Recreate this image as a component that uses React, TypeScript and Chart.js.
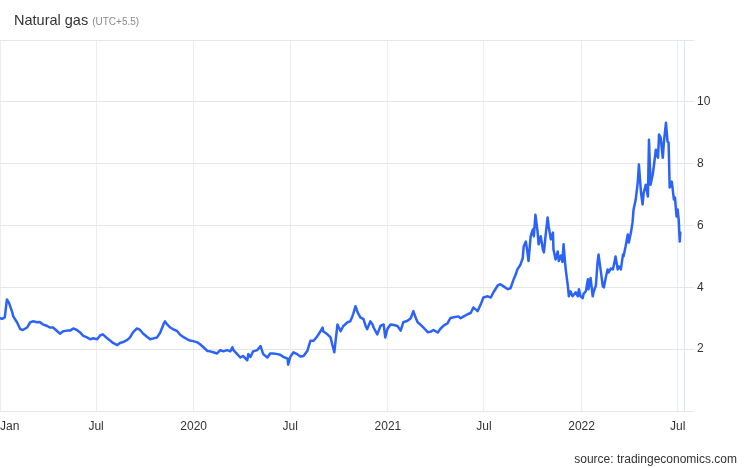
import React, { useEffect, useRef } from "react";
import { Chart, registerables } from "chart.js";

Chart.register(...registerables);

// days since 2019-01-01
const days = [
  0, 4, 9, 13, 17, 23, 25, 32, 38, 43, 51, 57, 62, 70, 75, 81, 89, 94, 100, 108,
  113, 119, 126, 132, 138, 145, 151, 157, 164, 170, 175, 183, 189, 194, 202, 208, 213, 221, 226, 232,
  240, 245, 251, 258, 264, 270, 277, 283, 289, 296, 302, 308, 311, 315, 321, 326, 334, 340, 345, 353,
  358, 364, 372, 377, 383, 391, 396, 402, 409, 415, 421, 428, 434, 438, 440, 447, 453, 458, 466, 468,
  472, 477, 485, 491, 496, 504, 509, 515, 523, 528, 534, 542, 543, 547, 553, 560, 566, 572, 579, 585,
  591, 598, 604, 608, 609, 617, 623, 626, 630, 636, 642, 647, 655, 660, 664, 666, 670, 674, 679, 685,
  689, 692, 698, 702, 704, 711, 717, 723, 726, 730, 736, 742, 749, 755, 760, 768, 774, 779, 783, 787,
  792, 798, 806, 811, 817, 825, 830, 836, 843, 849, 855, 864, 868, 874, 881, 887, 892, 900, 906, 911,
  919, 925, 930, 938, 943, 949, 957, 962, 968, 972, 975, 981, 985, 987, 991, 994, 996, 1000, 1004, 1006,
  1009, 1013, 1015, 1019, 1023, 1025, 1028, 1032, 1034, 1038, 1042, 1043, 1047, 1051, 1053, 1057, 1060, 1062, 1066, 1070,
  1072, 1075, 1079, 1085, 1089, 1091, 1094, 1098, 1100, 1104, 1108, 1109, 1113, 1117, 1119, 1123, 1126, 1128, 1132, 1136,
  1138, 1142, 1145, 1147, 1151, 1155, 1157, 1160, 1164, 1166, 1170, 1174, 1175, 1179, 1183, 1185, 1189, 1192, 1194, 1198,
  1202, 1204, 1208, 1211, 1213, 1217, 1221, 1223, 1226, 1230, 1232, 1236, 1240, 1242, 1245, 1249, 1251, 1255, 1258, 1260,
  1262, 1266, 1270, 1272, 1275, 1277, 1279, 1281, 1282,
];

const prices = [
  3.0, 2.98, 3.03, 3.61, 3.5, 3.2, 3.06, 2.87, 2.65, 2.62, 2.7, 2.87, 2.9, 2.87, 2.88, 2.8, 2.75, 2.7, 2.7, 2.58,
  2.5, 2.58, 2.6, 2.6, 2.67, 2.62, 2.54, 2.43, 2.38, 2.32, 2.35, 2.32, 2.45, 2.48, 2.35, 2.27, 2.2, 2.13, 2.2, 2.23,
  2.3, 2.38, 2.55, 2.67, 2.62, 2.5, 2.4, 2.32, 2.35, 2.38, 2.54, 2.8, 2.9, 2.8, 2.7, 2.65, 2.58, 2.46, 2.4, 2.32,
  2.28, 2.26, 2.22, 2.16, 2.07, 1.94, 1.93, 1.9, 1.86, 1.97, 1.93, 1.97, 1.93, 2.06, 1.97, 1.84, 1.73, 1.78, 1.64, 1.84,
  1.75, 1.93, 1.97, 2.1, 1.84, 1.73, 1.86, 1.86, 1.84, 1.82, 1.75, 1.69, 1.5, 1.75, 1.9, 1.84, 1.76, 1.78, 1.94, 2.27,
  2.27, 2.42, 2.58, 2.7, 2.58, 2.48, 2.38, 2.16, 1.9, 2.8, 2.58, 2.75, 2.87, 2.9, 3.06, 3.16, 3.39, 3.19, 3.03, 2.97,
  2.75, 2.65, 2.9, 2.8, 2.7, 2.48, 2.75, 2.8, 2.38, 2.65, 2.8, 2.78, 2.75, 2.6, 2.87, 2.92, 3.0, 3.23, 3.03, 2.87,
  2.8, 2.7, 2.55, 2.56, 2.62, 2.54, 2.66, 2.76, 2.83, 3.01, 3.03, 3.06, 3.0, 3.06, 3.13, 3.17, 3.35, 3.23, 3.45, 3.67,
  3.71, 3.67, 3.84, 4.06, 4.1, 4.03, 3.94, 3.97, 4.26, 4.42, 4.58, 4.74, 4.94, 5.33, 5.48, 5.13, 4.85, 5.65, 5.87, 5.65,
  6.35, 5.81, 5.39, 5.65, 5.23, 5.13, 5.65, 6.26, 5.97, 5.55, 5.77, 5.23, 4.9, 5.16, 4.85, 5.03, 4.82, 5.39, 4.6, 4.06,
  3.71, 3.87, 3.71, 3.84, 3.71, 3.94, 3.71, 3.65, 3.8, 3.87, 4.26, 3.94, 4.3, 3.71, 3.87, 4.06, 4.8, 5.06, 4.55, 4.03,
  4.0, 4.35, 4.58, 4.48, 4.61, 4.58, 4.74, 5.0, 4.58, 4.68, 4.58, 5.06, 5.0, 5.33, 5.71, 5.45, 5.77, 6.1, 6.52, 6.84,
  7.42, 7.97, 7.06, 6.68, 7.06, 7.32, 6.94, 8.77, 7.32, 7.65, 7.9, 8.45, 8.19, 8.94, 8.84, 8.19, 8.68, 9.32, 8.71, 8.68,
  7.23, 7.42, 6.84, 6.9, 6.29, 6.52, 6.19, 5.48, 5.77,
];

const tickDays = [0, 181, 365, 547, 731, 912, 1096, 1277, 1289];
const tickLabels = ["Jan", "Jul", "2020", "Jul", "2021", "Jul", "2022", "Jul", ""];
const yTickValues = [0, 2, 4, 6, 8, 10, 12];

const FONT = "'Liberation Sans', Arial, Helvetica, sans-serif";

export default function App() {
  const ref = useRef<HTMLCanvasElement>(null);

  useEffect(() => {
    document.body.style.margin = "0";
    const canvas = ref.current;
    if (!canvas) return;
    const chart = new Chart(canvas, {
      type: "line",
      data: {
        datasets: [
          {
            data: days.map((d, i) => ({ x: d, y: prices[i] })),
            borderColor: "#2b63f6",
            borderWidth: 2.5,
            borderJoinStyle: "round",
            borderCapStyle: "round",
            pointRadius: 0,
            tension: 0,
            fill: false,
          },
        ],
      },
      options: {
        responsive: false,
        animation: false,
        layout: { padding: { top: 40, left: 0, right: 0, bottom: 0 } },
        plugins: { legend: { display: false }, tooltip: { enabled: false }, title: { display: false } },
        scales: {
          x: {
            type: "linear",
            min: 0,
            max: 1289,
            afterBuildTicks: (axis: any) => {
              axis.ticks = tickDays.map((v) => ({ value: v }));
            },
            afterFit: (axis: any) => {
              axis.height = 57;
              axis.paddingLeft = 0;
              axis.paddingRight = 0;
            },
            ticks: {
              autoSkip: false,
              maxRotation: 0,
              minRotation: 0,
              align: "inner",
              padding: 8,
              color: "#333333",
              font: { family: FONT, size: 12 },
              callback: (v: any) => {
                const i = tickDays.indexOf(Number(v));
                return i >= 0 ? tickLabels[i] : "";
              },
            },
            grid: { color: "#e9eef4", drawTicks: false, tickLength: 0 },
            border: { display: false },
          },
          y: {
            position: "right",
            min: 0,
            max: 12,
            afterBuildTicks: (axis: any) => {
              axis.ticks = yTickValues.map((v) => ({ value: v }));
            },
            afterFit: (axis: any) => {
              axis.width = 62;
            },
            ticks: {
              padding: 3,
              color: "#333333",
              font: { family: FONT, size: 12 },
              callback: (v: any) => (Number(v) === 0 || Number(v) === 12 ? "" : String(v)),
            },
            grid: { color: "#e6e6e6", tickLength: 10 },
            border: { display: true, color: "#e1e6ec" },
          },
        },
      },
    } as any);
    return () => chart.destroy();
  }, []);

  return (
    <div style={{ position: "relative", width: 746, height: 468, background: "#fff", fontFamily: FONT }}>
      <canvas ref={ref} width={746} height={468} style={{ position: "absolute", left: 0, top: 0 }} />
      <div
        style={{
          position: "absolute",
          left: 14,
          top: 12,
          fontSize: 14.5,
          lineHeight: "16px",
          color: "#333333",
          whiteSpace: "nowrap",
        }}
      >
        Natural gas <span style={{ fontSize: 10, color: "#888888" }}>(UTC+5.5)</span>
      </div>
      <div
        style={{
          position: "absolute",
          right: 9,
          top: 452,
          fontSize: 12,
          lineHeight: "14px",
          color: "#333333",
          whiteSpace: "nowrap",
        }}
      >
        source: tradingeconomics.com
      </div>
    </div>
  );
}
